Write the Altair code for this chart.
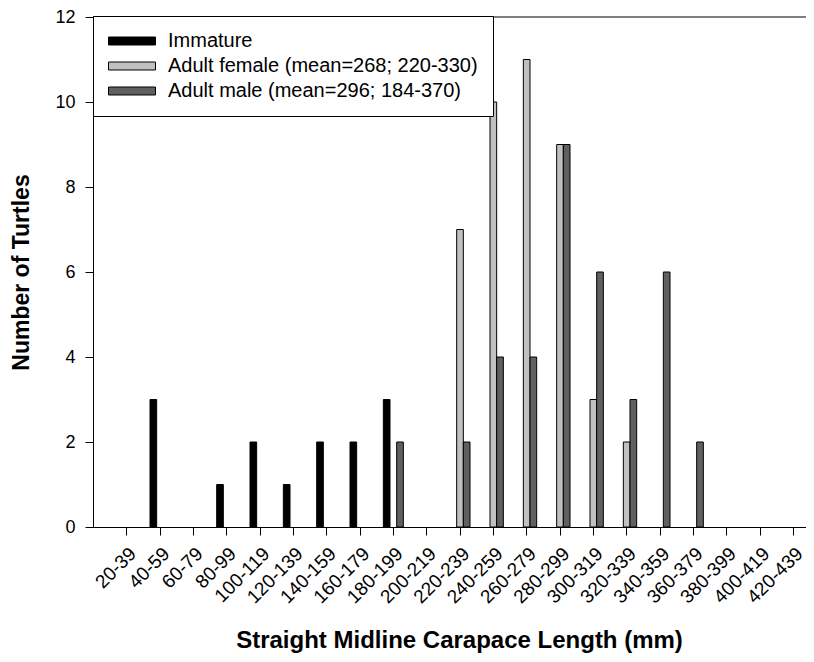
import altair as alt
import pandas as pd

# ---- data ----
categories = ["20-39", "40-59", "60-79", "80-99", "100-119", "120-139", "140-159",
              "160-179", "180-199", "200-219", "220-239", "240-259", "260-279",
              "280-299", "300-319", "320-339", "340-359", "360-379", "380-399",
              "400-419", "420-439"]
series_names = ["Immature",
                "Adult female (mean=268; 220-330)",
                "Adult male (mean=296; 184-370)"]
immature     = [0, 3, 0, 1, 2, 1, 2, 2, 3, 0, 0, 0, 0, 0, 0, 0, 0, 0, 0, 0, 0]
adult_female = [0, 0, 0, 0, 0, 0, 0, 0, 0, 0, 7, 10, 11, 9, 3, 2, 0, 0, 0, 0, 0]
adult_male   = [0, 0, 0, 0, 0, 0, 0, 0, 2, 0, 2, 4, 4, 9, 6, 3, 6, 2, 0, 0, 0]
series_colors = ["#000000", "#c0c0c0", "#606060"]
y_ticks = [0, 2, 4, 6, 8, 10, 12]
y_max = 12

rows = []
for name, vals in zip(series_names, [immature, adult_female, adult_male]):
    for cat, v in zip(categories, vals):
        if v > 0:
            rows.append({"category": cat, "series": name, "count": v})
df = pd.DataFrame(rows)
top_df = pd.DataFrame({"top": [y_max]})

FONT = "Liberation Sans"

x_scale = alt.Scale(domain=categories, paddingInner=0.4, paddingOuter=0.395, align=0.899)
y_scale = alt.Scale(domain=[0, y_max], nice=False)

bars = alt.Chart(df).mark_bar(stroke="black", strokeWidth=1).encode(
    x=alt.X("category:N", sort=categories, scale=x_scale,
            axis=alt.Axis(title="Straight Midline Carapace Length (mm)",
                          labelAngle=-45, labelAlign="right", labelBaseline="top",
                          labelFontSize=19, labelPadding=9, tickSize=8,
                          titleFontSize=24, titleFontWeight="bold", titlePadding=22,
                          titleX=366, titleAlign="center",
                          domainColor="black", tickColor="black",
                          labelColor="black", titleColor="black",
                          labelFont=FONT, titleFont=FONT, grid=False)),
    xOffset=alt.XOffset("series:N", sort=series_names,
                        scale=alt.Scale(domain=series_names, paddingInner=0, paddingOuter=0)),
    y=alt.Y("count:Q", scale=y_scale,
            axis=alt.Axis(values=y_ticks, title="Number of Turtles",
                          labelFontSize=18, labelPadding=10, tickSize=8,
                          titleFontSize=23, titleFontWeight="bold", titlePadding=21,
                          domainColor="black", tickColor="black",
                          labelColor="black", titleColor="black",
                          labelFont=FONT, titleFont=FONT, grid=False)),
    color=alt.Color("series:N", sort=series_names,
                    scale=alt.Scale(domain=series_names, range=series_colors),
                    legend=alt.Legend(title=None, orient="none", legendX=0, legendY=-1,
                                      fillColor="white", strokeColor="black", padding=15,
                                      symbolType="M-1,-0.17L1,-0.17L1,0.17L-1,0.17Z",
                                      symbolSize=2209, symbolStrokeColor="black",
                                      symbolStrokeWidth=1, symbolOffset=0, labelOffset=12,
                                      labelFontSize=20, labelFont=FONT, labelColor="black",
                                      labelLimit=600, clipHeight=20, rowPadding=5)),
)

top_rule = alt.Chart(top_df).mark_rule(color="black", strokeWidth=1).encode(
    y=alt.Y("top:Q", scale=y_scale)
)

chart = alt.layer(bars, top_rule).properties(
    width=713, height=510,
    autosize=alt.AutoSizeParams(type="none"),
    padding={"left": 85, "top": 9, "right": 0, "bottom": 127},
).configure_view(stroke="transparent")

chart.save("out.html", embed_options={"renderer": "svg", "actions": False})
